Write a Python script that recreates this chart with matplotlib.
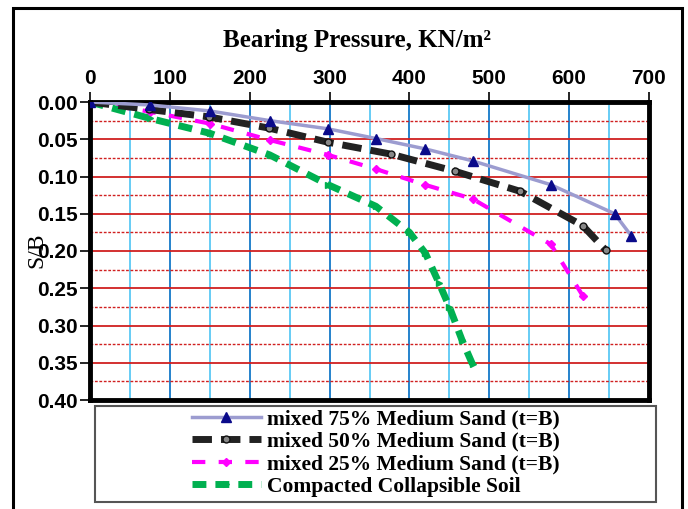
import matplotlib
matplotlib.use("Agg")
import matplotlib.pyplot as plt
from matplotlib.ticker import MultipleLocator, FormatStrFormatter
from matplotlib.patches import Rectangle

# ---- data ----
x75 = [0, 75, 150, 225, 298, 358, 420, 479, 577, 657, 678]
y75 = [0.0, 0.004, 0.012, 0.025, 0.036, 0.049, 0.063, 0.079, 0.111, 0.150, 0.180]

x50 = [0, 74, 149, 224, 298, 377, 457, 539, 617, 646]
y50 = [0.0, 0.010, 0.020, 0.035, 0.054, 0.070, 0.093, 0.120, 0.166, 0.199]

x25 = [0, 75, 150, 225, 298, 358, 419, 479, 577, 617]
y25 = [0.0, 0.013, 0.029, 0.051, 0.071, 0.090, 0.111, 0.130, 0.191, 0.260]

xcs = [0, 75, 150, 225, 298, 358, 400, 420, 437, 450, 466, 479]
ycs = [0.0, 0.022, 0.042, 0.071, 0.111, 0.140, 0.175, 0.203, 0.243, 0.275, 0.320, 0.352]

labels = ["mixed 75% Medium Sand (t=B)",
          "mixed 50% Medium Sand (t=B)",
          "mixed 25% Medium Sand (t=B)",
          "Compacted Collapsible Soil"]

xticks = [0, 100, 200, 300, 400, 500, 600, 700]
yticks = [0.00, 0.05, 0.10, 0.15, 0.20, 0.25, 0.30, 0.35, 0.40]

W, H = 688, 509
fig = plt.figure(figsize=(W / 100, H / 100), dpi=100)
fig.patch.set_facecolor("white")

# figure border
fig.patches.append(Rectangle((13 / W, -0.05), (682 - 13) / W, 1.05 - 8 / H,
                             transform=fig.transFigure, fill=False,
                             edgecolor="black", linewidth=2.2, zorder=0))

ax = fig.add_axes([90 / W, 1 - 400 / H, (649 - 90) / W, (400 - 102) / H])

ax.set_xlim(0, 700)
ax.set_ylim(0.40, 0.0)
ax.xaxis.tick_top()
ax.xaxis.set_label_position("top")
ax.set_xticks(xticks)
ax.set_yticks(yticks)
ax.yaxis.set_major_formatter(FormatStrFormatter("%.2f"))
ax.xaxis.set_minor_locator(MultipleLocator(50))
ax.yaxis.set_minor_locator(MultipleLocator(0.025))

for lab in ax.get_xticklabels() + ax.get_yticklabels():
    lab.set_fontfamily("Liberation Sans")
    lab.set_fontweight("bold")
    lab.set_fontsize(15)
ax.tick_params(axis="both", which="major", length=7, width=1.2, color="black")
ax.tick_params(axis="x", which="major", pad=3)
ax.tick_params(axis="y", which="major", pad=2)
ax.tick_params(which="minor", length=0)

# grid
ax.grid(False)
for v in range(50, 700, 100):
    ax.axvline(v, color="#5BC8F5", lw=1.3, zorder=1)
for v in range(100, 700, 100):
    ax.axvline(v, color="#1478C8", lw=1.3, zorder=1)
for k in range(1, 8):
    ax.axhline(0.05 * k, color="#D02020", lw=1.3, zorder=1)
for k in range(8):
    ax.axhline(0.025 + 0.05 * k, color="#D02020", lw=1.0, ls=(0, (2, 1.2)), zorder=1)

for s in ax.spines.values():
    s.set_linewidth(3.5)
    s.set_color("black")

l1, = ax.plot(x75, y75, color="#9C9CD0", lw=2.5, marker="^", markersize=7,
              markerfacecolor="#0A0A8A", markeredgecolor="#0A0A8A", zorder=5, label=labels[0])
l2, = ax.plot(x50, y50, color="#222222", lw=5, dashes=(2.8, 1.3), marker="o", markersize=5,
              markerfacecolor="#888888", markeredgecolor="#111111", zorder=4, label=labels[1])
l3, = ax.plot(x25, y25, color="#FF00FF", lw=3, dashes=(3.2, 3.2), marker="D", markersize=4.5,
              markerfacecolor="#FF00FF", markeredgecolor="#FF00FF", zorder=3, label=labels[2])
l4, = ax.plot(xcs, ycs, color="#00B050", lw=5, dashes=(2.0, 1.3), marker=">", markersize=5,
              markerfacecolor="#00B050", markeredgecolor="#00B050", zorder=3, label=labels[3])

ax.set_xlabel("Bearing Pressure, KN/m²", fontfamily="Liberation Serif",
              fontweight="bold", fontsize=18)
ax.xaxis.set_label_coords((357 - 90) / (649 - 90), (400 - 40) / (400 - 102))
ax.xaxis.label.set_va("center")
fig.text(37 / W, 1 - 250 / H, "S/B", rotation=90, ha="center", va="center",
         fontfamily="Liberation Serif", fontsize=17)

# legend box
fig.patches.append(Rectangle((95 / W, 1 - 502 / H), (656 - 95) / W, (502 - 406) / H,
                             transform=fig.transFigure, fill=False,
                             edgecolor="#555555", linewidth=1.5, zorder=1))
leg = fig.legend(handles=[l1, l2, l3, l4], loc="center",
                 bbox_to_anchor=(376 / W, 1 - 453 / H), frameon=False,
                 prop=dict(family="Liberation Serif", weight="bold", size=15.5),
                 handlelength=3.2, handletextpad=0.3, labelspacing=0.12,
                 borderpad=0.1, numpoints=1)

fig.savefig("out.png", dpi=100)
